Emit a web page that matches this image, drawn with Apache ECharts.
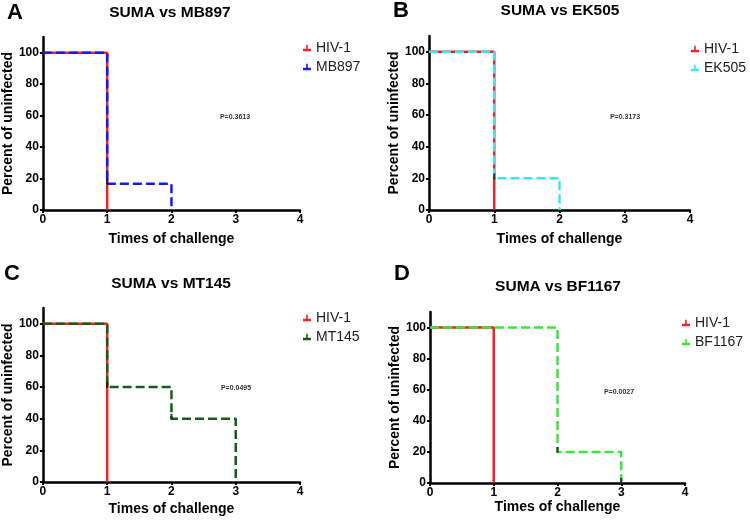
<!DOCTYPE html>
<html>
<head>
<meta charset="utf-8">
<script src="https://cdn.jsdelivr.net/npm/echarts@6/dist/echarts.min.js"></script>
<style>html,body{margin:0;padding:0;background:#fff}#c{width:750px;height:520px}</style>
</head>
<body>
<div id="c"></div>
<script>
// ---- data ----
const xTicks = [0, 1, 2, 3, 4];
const yTicks = [0, 20, 40, 60, 80, 100];
const panelLetters = ['A', 'B', 'C', 'D'];
const panelTitles = ['SUMA vs MB897', 'SUMA vs EK505', 'SUMA vs MT145', 'SUMA vs BF1167'];
const pValues = ['P=0.3613', 'P=0.3173', 'P=0.0495', 'P=0.0027'];
const controlName = 'HIV-1';
const strainNames = ['MB897', 'EK505', 'MT145', 'BF1167'];

const hivTimes = [0, 1];
const hivValues = [100, 0];
const mb897Times = [0, 1, 2];
const mb897Values = [100, 16.67, 0];
const ek505Times = [0, 1, 2];
const ek505Values = [100, 20, 0];
const mt145Times = [0, 1, 2, 3];
const mt145Values = [100, 60, 40, 0];
const bf1167Times = [0, 2, 3];
const bf1167Values = [100, 20, 0];

// censoring tick marks (time, value) per panel
const censorA = [[1, 16.67]];
const censorB = [[1, 20]];
const censorC = [[1, 60], [2, 40]];
const censorD = [[2, 20], [3, 0]];

// ---- styling / layout ----
const FONT = 'Liberation Sans, Arial, sans-serif';
const RED = '#ee2424';
const strainColors = ['#1a1ae0', '#3de6ee', '#155e15', '#3ae63a'];
const strainData = [
  [mb897Times, mb897Values],
  [ek505Times, ek505Values],
  [mt145Times, mt145Values],
  [bf1167Times, bf1167Values]
];
const censors = [censorA, censorB, censorC, censorD];
const grids = [
  {left: 40, top: 37, width: 260, height: 173},
  {left: 429, top: 36, width: 261, height: 174},
  {left: 40, top: 308, width: 260, height: 174},
  {left: 430, top: 312, width: 255, height: 171}
];
const letterPos = [[15, 13], [401, 11], [12, 274], [402, 274]];
const titlePos = [[170, 13], [560, 11], [171, 284], [558, 287]];
const pPos = [[235, 117], [625, 117], [236, 388], [619, 392]];
const legendPos = [[303, 41], [691, 42], [303, 311], [682, 316]];
const xNameGap = [22, 22, 20, 11];
const yNameGap = [22, 26, 24, 25];

function pts(t, v) { return t.map((x, i) => [x, v[i]]); }

const option = {
  animation: false,
  backgroundColor: '#fff',
  grid: grids.map(g => Object.assign({containLabel: false}, g)),
  xAxis: grids.map((g, i) => ({
    gridIndex: i, type: 'value', min: 0, max: 4, interval: 1,
    name: 'Times of challenge', nameLocation: 'middle', nameGap: xNameGap[i],
    nameTextStyle: {fontFamily: FONT, fontWeight: 'bold', fontSize: 14, color: '#000'},
    axisLine: {show: true, onZero: false, lineStyle: {color: '#000', width: 2.5}},
    axisTick: {show: true, length: 3, lineStyle: {color: '#000', width: 2}, customValues: xTicks},
    axisLabel: {fontFamily: FONT, fontWeight: 'bold', fontSize: 12, color: '#000', margin: 4, customValues: xTicks},
    splitLine: {show: false}
  })),
  yAxis: grids.map((g, i) => ({
    gridIndex: i, type: 'value', min: 0, max: 110, interval: 20,
    name: 'Percent of uninfected', nameLocation: 'middle', nameGap: yNameGap[i],
    nameTextStyle: {fontFamily: FONT, fontWeight: 'bold', fontSize: 14, color: '#000'},
    axisLine: {show: true, onZero: false, lineStyle: {color: '#000', width: 2.5}},
    axisTick: {show: true, length: 3, lineStyle: {color: '#000', width: 2}, customValues: yTicks},
    axisLabel: {fontFamily: FONT, fontWeight: 'bold', fontSize: 12, color: '#000', margin: 4, customValues: yTicks},
    splitLine: {show: false}
  })),
  legend: grids.map((g, i) => ({
    orient: 'vertical', left: legendPos[i][0], top: legendPos[i][1], padding: 0,
    data: [
      {name: controlName, itemStyle: {color: RED}},
      {name: strainNames[i], itemStyle: {color: strainColors[i]}}
    ],
    icon: 'path://M0,6 L10,6 L10,9 L0,9 Z M4,1 L6,1 L6,6 L4,6 Z',
    itemWidth: 8, itemHeight: 7, itemGap: 5,
    lineStyle: {width: 0},
    textStyle: {fontFamily: FONT, fontSize: 14, color: '#222', lineHeight: 14, padding: 0},
    selectedMode: false
  })),
  series: [],
  graphic: []
};

grids.forEach((g, i) => {
  option.series.push({
    type: 'line', name: controlName, xAxisIndex: i, yAxisIndex: i, step: 'end',
    data: pts(hivTimes, hivValues), symbol: 'none', z: 2,
    lineStyle: {color: RED, width: 2.5}, itemStyle: {color: RED}
  });
  option.series.push({
    type: 'line', name: strainNames[i], xAxisIndex: i, yAxisIndex: i, step: 'end',
    data: pts(strainData[i][0], strainData[i][1]), symbol: 'none', z: 3,
    lineStyle: {color: strainColors[i], width: 2.5, type: [9, 4]}, itemStyle: {color: strainColors[i]}
  });
  option.series.push({
    type: 'scatter', name: 'censor' + i, xAxisIndex: i, yAxisIndex: i,
    data: censors[i], symbol: 'rect', symbolSize: [2, 6], symbolOffset: [0, -2], z: 4,
    itemStyle: {color: '#111'}, silent: true
  });
  option.graphic.push({
    type: 'text', x: letterPos[i][0], y: letterPos[i][1],
    style: {text: panelLetters[i], font: 'bold 22px ' + FONT, fill: '#000', align: 'center', verticalAlign: 'middle'}
  });
  option.graphic.push({
    type: 'text', x: titlePos[i][0], y: titlePos[i][1],
    style: {text: panelTitles[i], font: 'bold 15.5px ' + FONT, fill: '#000', align: 'center', verticalAlign: 'middle'}
  });
  option.graphic.push({
    type: 'text', x: pPos[i][0], y: pPos[i][1],
    style: {text: pValues[i], font: 'bold 7px ' + FONT, fill: '#333', align: 'center', verticalAlign: 'middle'}
  });
});

const chart = echarts.init(document.getElementById('c'), null, {renderer: 'canvas'});
chart.setOption(option);
</script>
</body>
</html>
